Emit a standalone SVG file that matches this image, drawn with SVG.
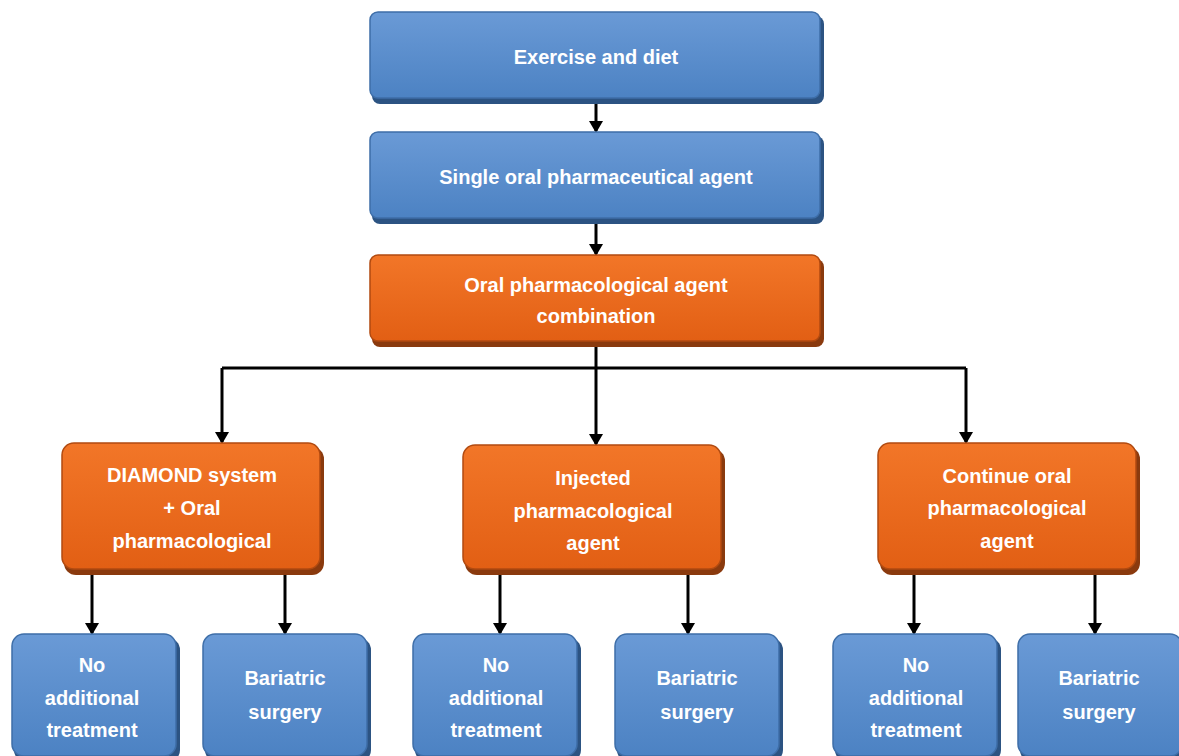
<svg xmlns="http://www.w3.org/2000/svg" width="1179" height="756" viewBox="0 0 1179 756">
<defs>
<marker id="ah" markerWidth="12" markerHeight="14" refX="10" refY="7" orient="auto" markerUnits="userSpaceOnUse" viewBox="0 0 12 14">
<path d="M0,0 L12,7 L0,14 Z" fill="#000"/>
</marker>
<linearGradient id="gb" x1="0" y1="0" x2="0" y2="1">
<stop offset="0" stop-color="#6a9ad6"/>
<stop offset="1" stop-color="#4c82c3"/>
</linearGradient>
<linearGradient id="go" x1="0" y1="0" x2="0" y2="1">
<stop offset="0" stop-color="#f27628"/>
<stop offset="1" stop-color="#e25f14"/>
</linearGradient>
</defs>
<style>
.sb{fill:#2c5382}
.so{fill:#8a3a0e}
.b{fill:url(#gb);stroke:#3e6ea8;stroke-width:1.5}
.o{fill:url(#go);stroke:#b14a10;stroke-width:1.5}
.t{font-family:"Liberation Sans",Arial,sans-serif;font-weight:bold;font-size:20px;fill:#fff;text-anchor:middle}
.c{stroke:#000;stroke-width:3;fill:none}
.a{stroke:#000;stroke-width:3;fill:none;marker-end:url(#ah)}
</style>
<rect width="1179" height="756" fill="#fff"/>
<g id="connectors">
<line class="a" x1="596" y1="101" x2="596" y2="131"/>
<line class="a" x1="596" y1="221" x2="596" y2="254"/>
<line class="c" x1="596" y1="344" x2="596" y2="368"/>
<line class="c" x1="222" y1="368" x2="966" y2="368"/>
<line class="a" x1="222" y1="368" x2="222" y2="442"/>
<line class="a" x1="596" y1="368" x2="596" y2="444"/>
<line class="a" x1="966" y1="368" x2="966" y2="442"/>
<line class="a" x1="92" y1="573" x2="92" y2="633"/>
<line class="a" x1="285" y1="573" x2="285" y2="633"/>
<line class="a" x1="500" y1="573" x2="500" y2="633"/>
<line class="a" x1="688" y1="573" x2="688" y2="633"/>
<line class="a" x1="914" y1="573" x2="914" y2="633"/>
<line class="a" x1="1095" y1="573" x2="1095" y2="633"/>
</g>
<g id="n1">
<rect class="sb" x="372" y="16" width="452" height="88" rx="8"/>
<rect class="b" x="370" y="12" width="450" height="86" rx="8"/>
<text class="t" x="596" y="64">Exercise and diet</text>
</g>
<g id="n2">
<rect class="sb" x="372" y="136" width="452" height="88" rx="8"/>
<rect class="b" x="370" y="132" width="450" height="86" rx="8"/>
<text class="t" x="596" y="184">Single oral pharmaceutical agent</text>
</g>
<g id="n3">
<rect class="so" x="372" y="259" width="452" height="88" rx="8"/>
<rect class="o" x="370" y="255" width="450" height="86" rx="8"/>
<text class="t" x="596" y="292">Oral pharmacological agent</text>
<text class="t" x="596" y="323" font-size="17">combination</text>
</g>
<g id="n4">
<rect class="so" x="64" y="447" width="260" height="128" rx="12"/>
<rect class="o" x="62" y="443" width="258" height="126" rx="12"/>
<text class="t" x="192" y="482">DIAMOND system</text>
<text class="t" x="192" y="515">+ Oral</text>
<text class="t" x="192" y="548">pharmacological</text>
</g>
<g id="n5">
<rect class="so" x="465" y="449" width="260" height="126" rx="12"/>
<rect class="o" x="463" y="445" width="258" height="124" rx="12"/>
<text class="t" x="593" y="485">Injected</text>
<text class="t" x="593" y="518">pharmacological</text>
<text class="t" x="593" y="550">agent</text>
</g>
<g id="n6">
<rect class="so" x="880" y="447" width="260" height="128" rx="12"/>
<rect class="o" x="878" y="443" width="258" height="126" rx="12"/>
<text class="t" x="1007" y="483">Continue oral</text>
<text class="t" x="1007" y="515">pharmacological</text>
<text class="t" x="1007" y="548">agent</text>
</g>
<g id="n7">
<rect class="sb" x="14" y="638" width="166" height="124" rx="12"/>
<rect class="b" x="12" y="634" width="164" height="122" rx="12"/>
<text class="t" x="92" y="672">No</text>
<text class="t" x="92" y="705">additional</text>
<text class="t" x="92" y="737">treatment</text>
</g>
<g id="n8">
<rect class="sb" x="205" y="638" width="166" height="124" rx="12"/>
<rect class="b" x="203" y="634" width="164" height="122" rx="12"/>
<text class="t" x="285" y="685">Bariatric</text>
<text class="t" x="285" y="719">surgery</text>
</g>
<g id="n9">
<rect class="sb" x="415" y="638" width="166" height="124" rx="12"/>
<rect class="b" x="413" y="634" width="164" height="122" rx="12"/>
<text class="t" x="496" y="672">No</text>
<text class="t" x="496" y="705">additional</text>
<text class="t" x="496" y="737">treatment</text>
</g>
<g id="n10">
<rect class="sb" x="617" y="638" width="166" height="124" rx="12"/>
<rect class="b" x="615" y="634" width="164" height="122" rx="12"/>
<text class="t" x="697" y="685">Bariatric</text>
<text class="t" x="697" y="719">surgery</text>
</g>
<g id="n11">
<rect class="sb" x="835" y="638" width="166" height="124" rx="12"/>
<rect class="b" x="833" y="634" width="164" height="122" rx="12"/>
<text class="t" x="916" y="672">No</text>
<text class="t" x="916" y="705">additional</text>
<text class="t" x="916" y="737">treatment</text>
</g>
<g id="n12">
<rect class="sb" x="1020" y="638" width="166" height="124" rx="12"/>
<rect class="b" x="1018" y="634" width="164" height="122" rx="12"/>
<text class="t" x="1099" y="685">Bariatric</text>
<text class="t" x="1099" y="719">surgery</text>
</g>
</svg>
